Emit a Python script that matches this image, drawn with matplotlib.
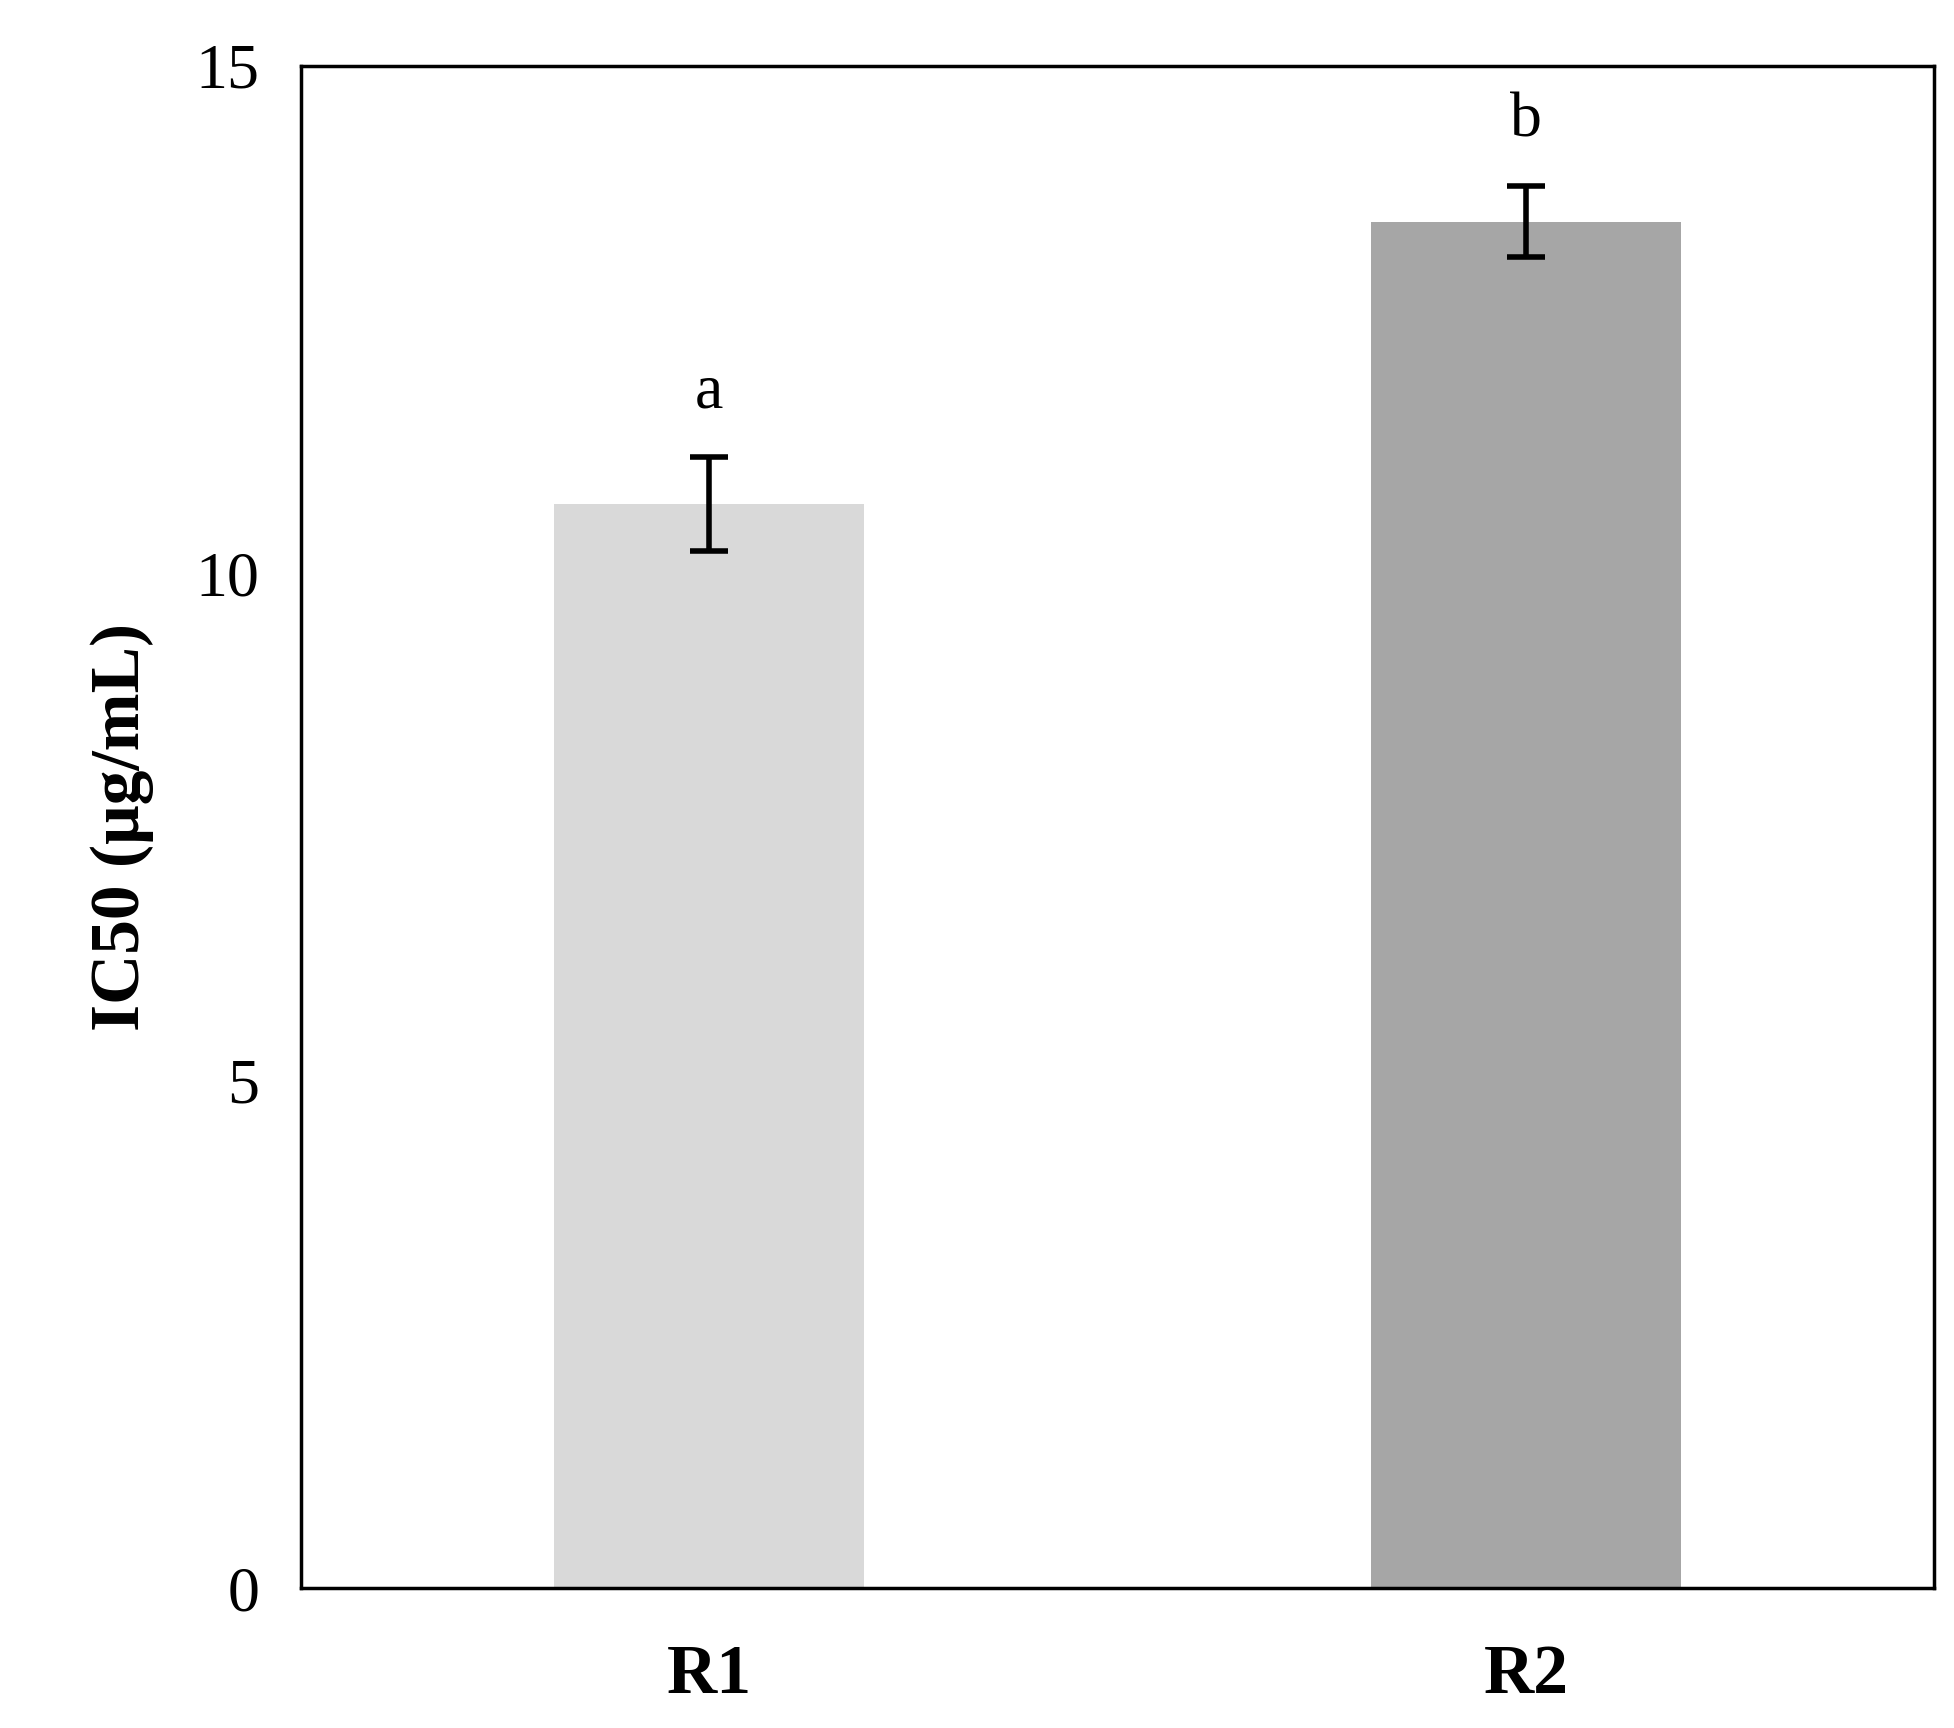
import matplotlib
matplotlib.use("Agg")
import matplotlib.pyplot as plt

# data
groups = ["R1", "R2"]
ic50 = [10.68, 13.46]
err = [0.46, 0.35]
letters = ["a", "b"]
bar_colors = ["#d9d9d9", "#a6a6a6"]

plt.rcParams['font.family'] = ['Liberation Serif', 'DejaVu Serif']

fig = plt.figure(figsize=(19.54, 17.28), dpi=100)
ax = fig.add_axes([0.154, 0.081, 0.836, 0.881])

x = range(len(groups))
ax.bar(x, ic50, width=0.38, color=bar_colors)
ax.errorbar(x, ic50, yerr=err, fmt="none", ecolor="black",
            elinewidth=4, capsize=14, capthick=4)
for xi, v, e, t in zip(x, ic50, err, letters):
    ax.text(xi, v + e + 0.35, t, ha="center", va="bottom", fontsize=46)

ax.set_xlim(-0.5, 1.5)
ax.set_ylim(0, 15)
ax.set_yticks([0, 5, 10, 15])
ax.set_xticks(list(x))
ax.set_xticklabels(groups, fontsize=50, fontweight="bold")
ax.tick_params(axis="y", length=0, labelsize=46, pad=30)
ax.tick_params(axis="x", length=0, pad=40)
ax.set_ylabel("IC50 (μg/mL)", fontsize=50, fontweight="bold", labelpad=30)
for s in ax.spines.values():
    s.set_linewidth(2.5)

fig.savefig("out.png", dpi=100)
